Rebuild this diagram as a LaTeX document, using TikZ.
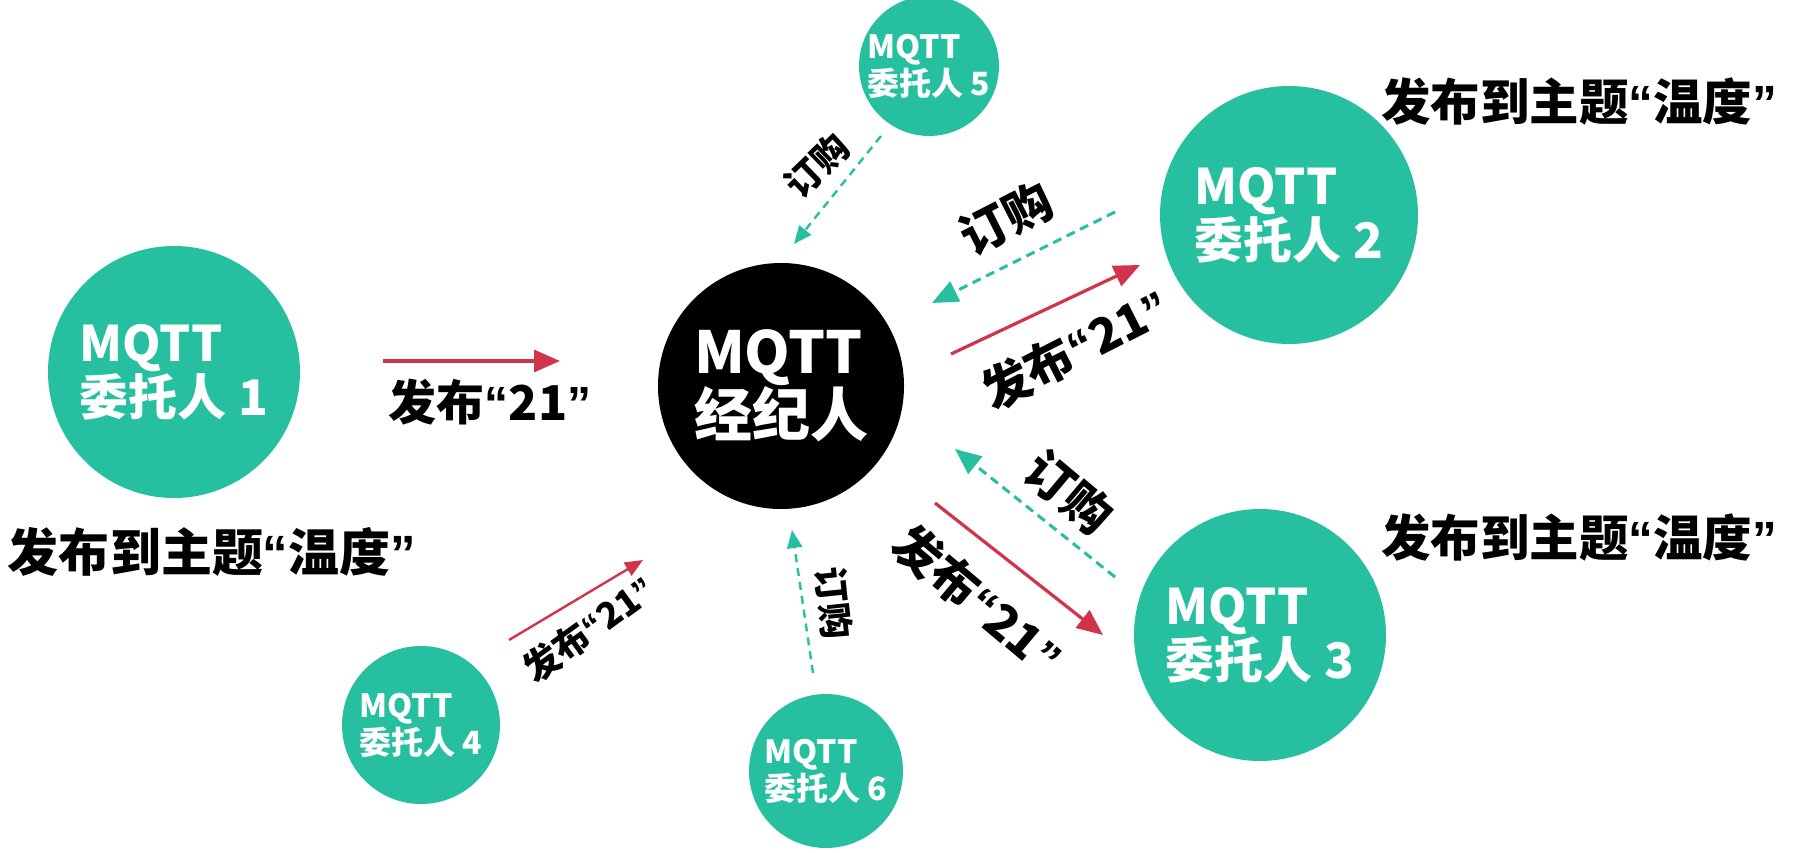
\documentclass[tikz,border=0pt]{standalone}
\usepackage{fontspec}
\setmainfont{Noto Sans CJK SC}
\newfontfamily\latf{Liberation Sans}
\newcommand\qt[1]{{\latf “}#1{\latf ”}}
\usetikzlibrary{arrows.meta}
\definecolor{tealc}{HTML}{26BFA0}
\definecolor{redc}{HTML}{D0344B}
\begin{document}
\begin{tikzpicture}[x=1pt,y=-1pt,
  client/.style={circle, fill=tealc, text=white, align=left, inner sep=0pt},
  brokerc/.style={circle, fill=black, text=white, align=left, inner sep=0pt},
  big/.style={font=\bfseries\fontsize{49}{54}\selectfont},
  small/.style={font=\bfseries\fontsize{32}{37}\selectfont},
  pub/.style={draw=redc, line width=3.2pt, -{Triangle[length=26pt,width=22pt]}},
  pubsmall/.style={draw=redc, line width=2.4pt, -{Triangle[length=18pt,width=15pt]}},
  sub/.style={draw=tealc, line width=3pt, dash pattern=on 9pt off 6pt, -{Triangle[length=26pt,width=22pt]}},
  subsmall/.style={draw=tealc, line width=2.4pt, dash pattern=on 8pt off 6pt, -{Triangle[length=18pt,width=15pt]}},
  lbl/.style={text=black, inner sep=0pt, font=\bfseries\fontsize{48}{52}\selectfont},
  lblsmall/.style={text=black, inner sep=0pt, font=\bfseries\fontsize{36}{40}\selectfont},
  topic/.style={text=black, inner sep=0pt, font=\bfseries\fontsize{51}{55}\selectfont},
  topicr/.style={text=black, inner sep=0pt, font=\bfseries\fontsize{49.5}{54}\selectfont}]
\useasboundingbox (0,0) rectangle (1793,853);
% nodes
\node[brokerc, minimum size=246pt, font=\bfseries\fontsize{58}{62}\selectfont] (b) at (781,386) {MQTT\\经纪人};
\node[client, big, minimum size=252pt] (c1) at (174,372) {MQTT\\委托人 1};
\node[client, big, minimum size=258pt] (c2) at (1289,215) {MQTT\\委托人 2};
\node[client, big, minimum size=252pt] (c3) at (1260,635) {MQTT\\委托人 3};
\node[client, small, minimum size=158pt] (c4) at (421,725) {MQTT\\委托人 4};
\node[client, small, minimum size=140pt] (c5) at (929,66) {MQTT\\委托人 5};
\node[client, small, minimum size=154pt] (c6) at (826,771) {MQTT\\委托人 6};
% topic labels
\node[topic] (t1) at (212,552) {发布到主题\qt{温度}};
\node[topicr] (t2) at (1579,101) {发布到主题\qt{温度}};
\node[topicr] (t3) at (1579,537) {发布到主题\qt{温度}};
% arrow end points
\coordinate (a1s) at (383,361); \coordinate (a1e) at (560,361);
\coordinate (a2ps) at (951,354); \coordinate (a2pe) at (1140,265);
\coordinate (a2ss) at (1115,212); \coordinate (a2se) at (932,303);
\coordinate (a3ps) at (935,503); \coordinate (a3pe) at (1103,635);
\coordinate (a3ss) at (1115,577); \coordinate (a3se) at (955,449);
\coordinate (a4s) at (509,640); \coordinate (a4e) at (643,560);
\coordinate (a5s) at (881,136); \coordinate (a5e) at (794,244);
\coordinate (a6s) at (813,673); \coordinate (a6e) at (792,530);
\draw[pub] (a1s) -- (a1e);
\draw[pub] (a2ps) -- (a2pe);
\draw[sub] (a2ss) -- (a2se);
\draw[pub] (a3ps) -- (a3pe);
\draw[sub] (a3ss) -- (a3se);
\draw[pubsmall] (a4s) -- (a4e);
\draw[subsmall] (a5s) -- (a5e);
\draw[subsmall] (a6s) -- (a6e);
% arrow labels
\node[lbl] (l1) at (490,402) {发布\qt{21}};
\node[lbl, rotate=27] (l2p) at (1075,349) {发布\qt{21}};
\node[lbl, rotate=27] (l2s) at (1006,218) {订购};
\node[lbl, rotate=-40] (l3p) at (978,600) {发布\qt{21}};
\node[lbl, rotate=-40] (l3s) at (1069,492) {订购};
\node[lblsmall, rotate=36] (l4) at (589,629) {发布\qt{21}};
\node[lblsmall, rotate=44] (l5) at (817,166) {订购};
\node[lblsmall, rotate=-84] (l6) at (834,603) {订购};
\end{tikzpicture}
\end{document}
